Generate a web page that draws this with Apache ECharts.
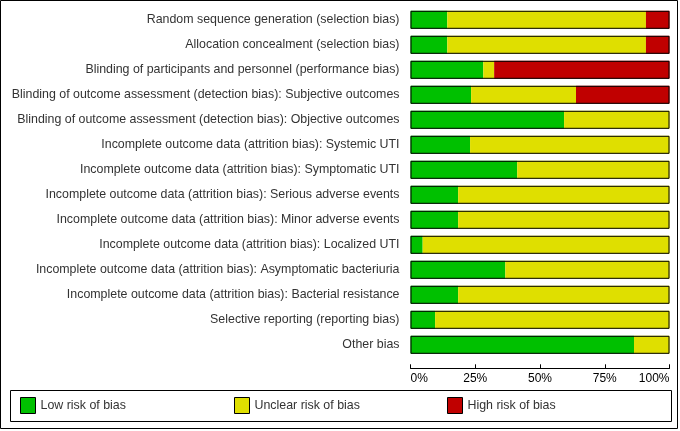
<!DOCTYPE html>
<html>
<head>
<meta charset="utf-8">
<script src="https://cdn.jsdelivr.net/npm/echarts@6/dist/echarts.min.js"></script>
<style>html,body{margin:0;padding:0;background:#fff}#c{width:680px;height:431px}</style>
</head>
<body>
<div id="c"></div>
<script>
var categories = [
  'Random sequence generation (selection bias)',
  'Allocation concealment (selection bias)',
  'Blinding of participants and personnel (performance bias)',
  'Blinding of outcome assessment (detection bias): Subjective outcomes',
  'Blinding of outcome assessment (detection bias): Objective outcomes',
  'Incomplete outcome data (attrition bias): Systemic UTI',
  'Incomplete outcome data (attrition bias): Symptomatic UTI',
  'Incomplete outcome data (attrition bias): Serious adverse events',
  'Incomplete outcome data (attrition bias): Minor adverse events',
  'Incomplete outcome data (attrition bias): Localized UTI',
  'Incomplete outcome data (attrition bias): Asymptomatic bacteriuria',
  'Incomplete outcome data (attrition bias): Bacterial resistance',
  'Selective reporting (reporting bias)',
  'Other bias'
];
var lowRisk     = [14.2, 14.2, 28.1, 23.4, 59.3, 23.0, 41.2, 18.4, 18.4, 4.7, 36.6, 18.4, 9.5, 86.3];
var unclearRisk = [76.7, 76.7, 4.2, 40.5, 40.7, 77.0, 58.8, 81.6, 81.6, 95.3, 63.4, 81.6, 90.5, 13.7];
var highRisk    = [9.1, 9.1, 67.7, 36.1, 0, 0, 0, 0, 0, 0, 0, 0, 0, 0];
var legendNames = ['Low risk of bias', 'Unclear risk of bias', 'High risk of bias'];
var tickLabels = ['0%', '25%', '50%', '75%', '100%'];

var colors = ['#00C000', '#DFDF00', '#C00000'];
var totals = categories.map(function (c, i) { return lowRisk[i] + unclearRisk[i] + highRisk[i]; });

var chart = echarts.init(document.getElementById('c'), null, {renderer: 'canvas'});
var font = 'Liberation Sans, Arial, sans-serif';
function seg(name, data, color) {
  return {
    name: name, type: 'bar', stack: 'r', data: data, barWidth: 18,
    itemStyle: {color: color}, silent: true, animation: false
  };
}
chart.setOption({
  animation: false,
  grid: {left: 410.5, right: 10.5, top: 7.3, height: 350},
  xAxis: {
    type: 'value', min: 0, max: 100, interval: 25,
    position: 'bottom', offset: 11,
    axisLine: {show: true, lineStyle: {color: '#000', width: 1}},
    axisTick: {show: true, inside: true, length: 4, lineStyle: {color: '#000'}},
    splitLine: {show: false},
    axisLabel: {
      margin: 4, fontSize: 12, fontFamily: font, color: '#000',
      alignMinLabel: 'left', alignMaxLabel: 'right',
      formatter: function (v) { return tickLabels[Math.round(v / 25)]; }
    }
  },
  yAxis: {
    type: 'category', data: categories, inverse: true,
    axisLine: {show: false}, axisTick: {show: false},
    axisLabel: {margin: 11, fontSize: 12.4, fontFamily: font, color: '#333', padding: [6, 0, 0, 0]}
  },
  legend: [0, 1, 2].map(function (i) {
    return {
      data: [legendNames[i]], left: [20, 234, 447][i], top: 397, padding: 0,
      itemWidth: 15, itemHeight: 16, itemGap: 5, icon: 'rect',
      selectedMode: false,
      itemStyle: {borderColor: '#000', borderWidth: 1},
      textStyle: {fontSize: 12.4, fontFamily: font, color: '#333', padding: [1, 0, 0, 0]}
    };
  }),
  graphic: [
    {type: 'rect', shape: {x: 0.5, y: 0.5, width: 677, height: 428}, style: {fill: null, stroke: '#000', lineWidth: 1}, silent: true},
    {type: 'rect', shape: {x: 10.5, y: 390.5, width: 661, height: 31}, style: {fill: null, stroke: '#000', lineWidth: 1}, silent: true}
  ],
  series: [
    seg(legendNames[0], lowRisk, colors[0]),
    seg(legendNames[1], unclearRisk, colors[1]),
    seg(legendNames[2], highRisk, colors[2]),
    {
      name: 'outline', type: 'bar', data: totals, barWidth: 18, barGap: '-100%', z: 5,
      itemStyle: {color: 'rgba(0,0,0,0)', borderColor: '#000', borderWidth: 1},
      silent: true
    }
  ]
});
</script>
</body>
</html>
